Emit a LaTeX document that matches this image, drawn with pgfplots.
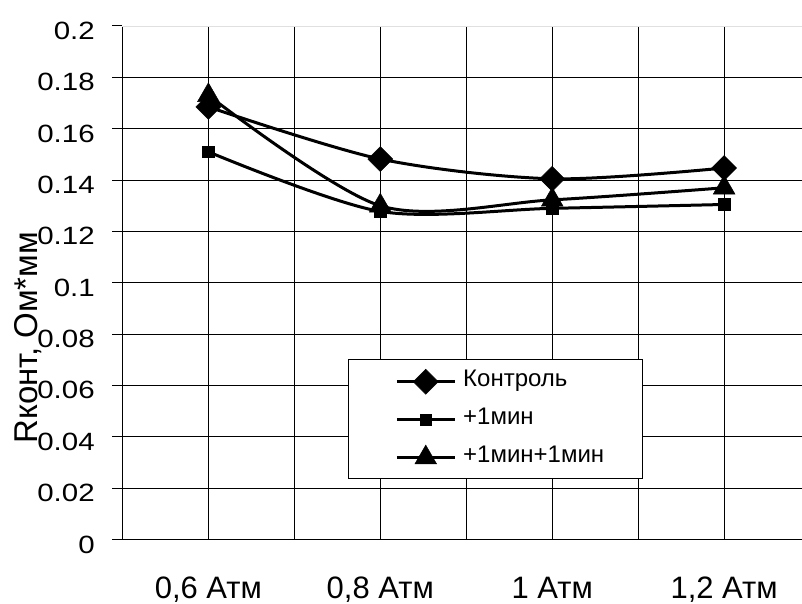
\documentclass[border=0pt]{standalone}
\usepackage{fontspec}
\setmainfont{Liberation Sans}
\newfontfamily\ytfont{Liberation Sans}[FakeStretch=1.18]
\usepackage{pgfplots}
\pgfplotsset{compat=1.18}
\begin{document}
\begin{tikzpicture}
\begin{axis}[
  at={(0,0)}, anchor=south west,
  scale only axis, width=679.5pt, height=514pt,
  xmin=-0.5, xmax=3.45, ymin=0, ymax=0.2,
  axis lines=left, axis line style={-, line width=1pt, black},
  /pgf/number format/assume math mode=true,
  xtick={0,1,2,3},
  xticklabels={{0,6 Атм},{0,8 Атм},{1 Атм},{1,2 Атм}},
  xtick style={draw=none},
  xticklabel style={font=\fontsize{31}{31}\selectfont, anchor=base, inner sep=0pt, yshift=-48.5pt},
  extra x ticks={-0.5,0.5,1.5,2.5},
  extra x tick labels={},
  extra x tick style={grid=major, tick style={draw=black, line width=1pt}, major tick length=9pt, tick align=outside},
  ytick={0,0.02,0.04,0.06,0.08,0.1,0.12,0.14,0.16,0.18},
  yticklabels={0,0.02,0.04,0.06,0.08,0.1,0.12,0.14,0.16,0.18},
  extra y ticks={0.2},
  extra y tick labels={0.2},
  extra y tick style={grid=major, major grid style={black!12, line width=0.9pt}, tick style={draw=black, line width=1pt}},
  yticklabel style={font=\fontsize{25}{25}\ytfont, anchor=base east, inner sep=0pt, xshift=-17.5pt, yshift=-13.4pt},
  ytick style={draw=black, line width=1pt},
  tick align=outside, major tick length=10pt,
  xmajorgrids, ymajorgrids,
  major grid style={black, line width=0.9pt},
  ylabel={Rконт, Ом*мм},
  ylabel style={font=\fontsize{33}{33}\selectfont, at={(axis description cs:-0.139,0.393)}, anchor=center, inner sep=0pt},
  cycle list={{black}},
  every axis plot/.append style={black, line width=3pt, smooth},
  legend style={at={(axis description cs:0.3319,0.3521)}, anchor=north west,
    draw=black, line width=1pt, font=\fontsize{24}{24}\selectfont,
    inner xsep=38pt, inner ysep=10pt, row sep=14.5pt,
    nodes={inner sep=0pt, text height=16pt, text depth=6pt},
    /tikz/every odd column/.append style={column sep=7pt}},
  legend cell align=left,
  legend image code/.code={\path (-9pt,0pt); \draw[mark repeat=2,mark phase=2] plot coordinates {(0pt,0pt) (29pt,0pt) (58pt,0pt)};},
]
\addplot[black, mark=square*, mark options={rotate=45, solid, fill=black, line width=0.5pt}, mark size=8.8pt]
  coordinates {(0,0.1685) (1,0.1482) (2,0.1405) (3,0.1447)};
\addlegendentry{Контроль}
\addplot[black, mark=square*, mark options={solid, fill=black, line width=0.5pt}, mark size=5.8pt]
  coordinates {(0,0.1510) (1,0.1278) (2,0.1290) (3,0.1305)};
\addlegendentry{+1мин}
\addplot[black, mark=triangle*, mark options={solid, fill=black, line width=0.5pt}, mark size=12.5pt]
  coordinates {(0,0.1730) (1,0.1300) (2,0.1323) (3,0.1370)};
\addlegendentry{+1мин+1мин}
\end{axis}
\useasboundingbox (-122.5pt,-64pt) rectangle (679.5pt,540pt);
\end{tikzpicture}
\end{document}
